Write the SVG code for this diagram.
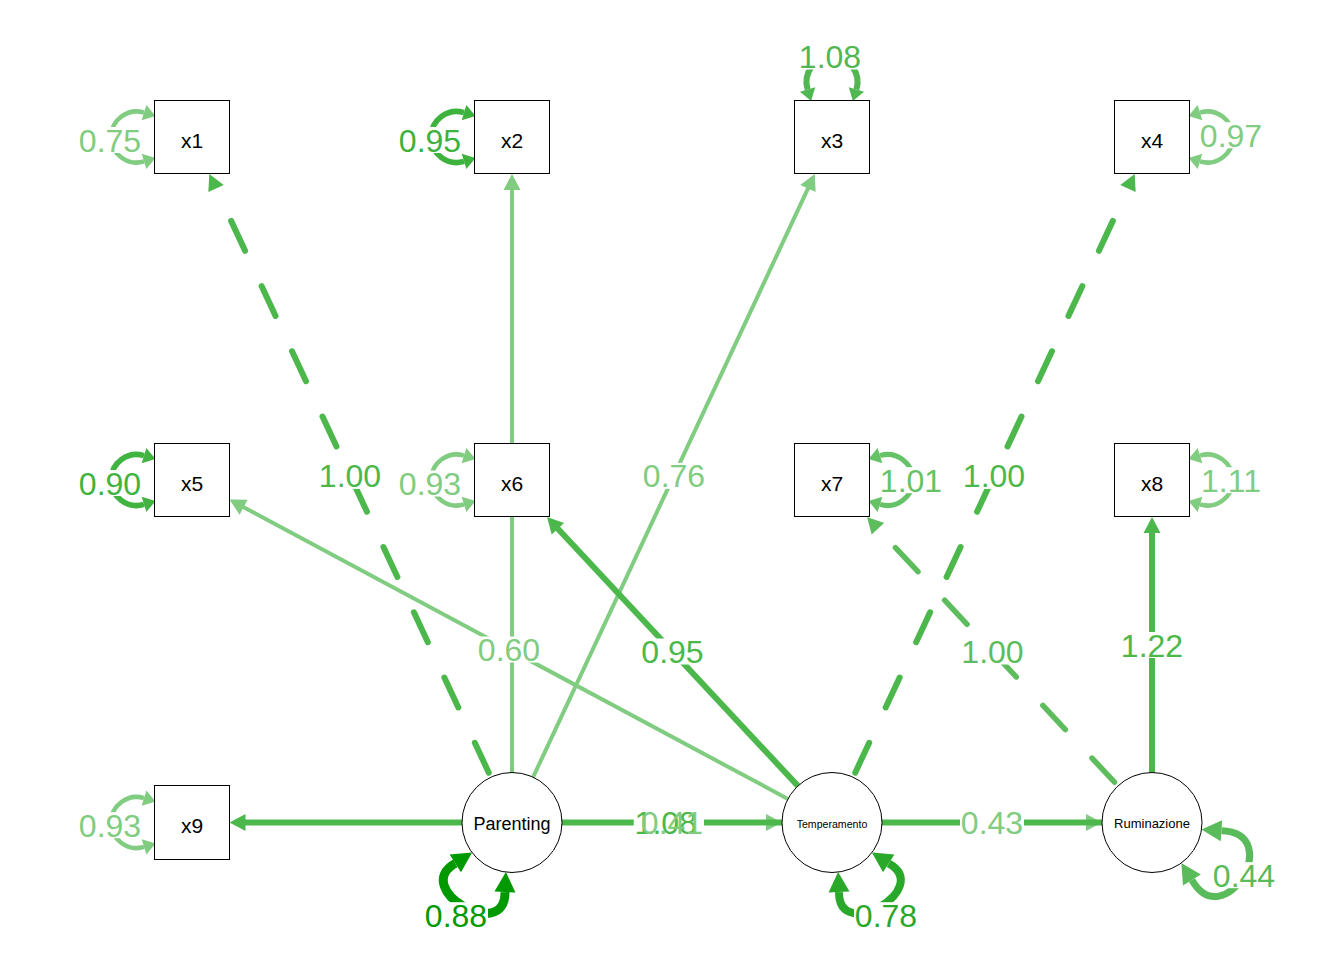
<svg xmlns="http://www.w3.org/2000/svg" xmlns:xlink="http://www.w3.org/1999/xlink" width="1344" height="960" viewBox="0 0 1344 960">
  <style>
    .ln { fill: none; stroke: currentColor; }
    .dash { stroke-dasharray: 33 39; stroke-dashoffset: 67; stroke-linecap: round; }
    .ah { fill: currentColor; }
    .bg { fill: #ffffff; }
    .lbl { font-family: "Liberation Sans", Arial, sans-serif; font-size: 32px; text-anchor: middle; fill: currentColor; }
    .box { fill: #ffffff; stroke: #000000; stroke-width: 1; }
    .nt { font-family: "Liberation Sans", Arial, sans-serif; text-anchor: middle; fill: #000000; }
    .cL { color: #80cc80; }
    .cM { color: #4cb84c; }
    .cR7 { color: #5dbd5d; }
    .c2 { color: #3db23d; }
    .c3 { color: #52b752; }
    .c5 { color: #40b340; }
    .c7 { color: #66c266; }
    .cP { color: #009900; }
    .cT { color: #2aa82a; }
    .cR { color: #5abb5a; }
  </style>
  <defs>
    <!-- arrowheads: tip at origin, pointing along +x -->
    <path id="ah" d="M0,0 L-16,-8.5 L-16,8.5 Z" class="ah"/>
    <path id="ahs" d="M0,0 L-12,-8 L-12,8 Z" class="ah"/>
    <path id="ahb" d="M0,0 L-20,-10.5 L-20,10.5 Z" class="ah"/>
    <!-- residual loop on a box side: side centre at origin, loop opens towards -x -->
    <g id="bloop">
      <path class="ln" d="M-10.5,-24.4 A25.5,25.5 0 1 0 -10.5,24.4"/>
      <use href="#ahs" transform="translate(1,-20.9) rotate(17)"/>
      <use href="#ahs" transform="translate(1,20.9) rotate(-17)"/>
    </g>
    <!-- residual loop on a latent circle (r=50): centre at origin, loop opens towards +y -->
    <g id="cloop">
      <path class="ln" d="M-28.7,63.8 C-55,108 55,108 28.7,63.8"/>
      <use href="#ahb" transform="translate(-19.5,46) rotate(-62.7)"/>
      <use href="#ahb" transform="translate(19.5,46) rotate(-117.3)"/>
    </g>
    <!-- deeper variant of the latent loop -->
    <g id="cloopDeep">
      <path class="ln" d="M-28.7,63.8 C-60,120 60,120 28.7,63.8"/>
      <use href="#ahb" transform="translate(-19.5,46) rotate(-62.7)"/>
      <use href="#ahb" transform="translate(19.5,46) rotate(-117.3)"/>
    </g>
  </defs>

  <rect width="1344" height="960" fill="#ffffff"/>

  <g id="connectors">
    <!-- residual variances -->
    <use href="#bloop" class="cL" stroke-width="4.5" transform="translate(154.5,137)"/>
    <use href="#bloop" class="c2" stroke-width="5.5" transform="translate(474.5,137)"/>
    <use href="#bloop" class="c3" stroke-width="6" transform="translate(832,100) rotate(90)"/>
    <use href="#bloop" class="cL" stroke-width="4.5" transform="translate(1189.5,137) scale(-1,1)"/>
    <use href="#bloop" class="c5" stroke-width="5.5" transform="translate(154.5,480)"/>
    <use href="#bloop" class="cL" stroke-width="4.5" transform="translate(474.5,480)"/>
    <use href="#bloop" class="c7" stroke-width="5" transform="translate(869.5,480) scale(-1,1)"/>
    <use href="#bloop" class="cL" stroke-width="4.5" transform="translate(1189.5,480) scale(-1,1)"/>
    <use href="#bloop" class="cL" stroke-width="4.5" transform="translate(154.5,822.5)"/>
    <use href="#cloop" class="cP" stroke-width="9" transform="translate(512,822.5) rotate(30)"/>
    <use href="#cloop" class="cT" stroke-width="8" transform="translate(832,822.5) rotate(-30)"/>
    <use href="#cloopDeep" class="cR" stroke-width="7" transform="translate(1152,822.5) rotate(-59)"/>

    <!-- loadings -->
    <g id="e-Parenting-x1" class="cM">
      <path class="ln dash" stroke-width="6" d="M490.9,777.2 L215.6,187.6"/>
      <use href="#ah" transform="translate(209.3,174) rotate(-115)"/>
    </g>
    <g id="e-Parenting-x2" class="cL">
      <path class="ln" stroke-width="4" d="M512,772.5 L512,189"/>
      <use href="#ah" transform="translate(512,174) rotate(-90)"/>
    </g>
    <g id="e-Parenting-x3" class="cL">
      <path class="ln" stroke-width="4" d="M533.1,777.2 L808.4,187.6"/>
      <use href="#ah" transform="translate(814.7,174) rotate(-65)"/>
    </g>
    <g id="e-Temperamento-x4" class="cM">
      <path class="ln dash" stroke-width="6" d="M853.1,777.2 L1128.4,187.6"/>
      <use href="#ah" transform="translate(1134.7,174) rotate(-65)"/>
    </g>
    <g id="e-Temperamento-x5" class="cL">
      <path class="ln" stroke-width="4" d="M787.9,798.9 L242.7,506.7"/>
      <use href="#ah" transform="translate(229.5,499.6) rotate(-151.8)"/>
    </g>
    <g id="e-Temperamento-x6" class="cM">
      <path class="ln" stroke-width="6" d="M797.9,785.9 L557.2,528"/>
      <use href="#ah" transform="translate(547,517) rotate(-133)"/>
    </g>
    <g id="e-Ruminazione-x7" class="cR7">
      <path class="ln dash" stroke-width="5.5" d="M1117.9,785.9 L877.2,528"/>
      <use href="#ah" transform="translate(867,517) rotate(-133)"/>
    </g>
    <g id="e-Ruminazione-x8" class="cM">
      <path class="ln" stroke-width="6" d="M1152,772.5 L1152,532"/>
      <use href="#ah" transform="translate(1152,517) rotate(-90)"/>
    </g>

    <!-- regressions -->
    <g id="e-Parenting-Temperamento" class="cL">
      <path class="ln" stroke-width="4" d="M562,822.5 L767,822.5"/>
      <use href="#ah" transform="translate(782,822.5)"/>
    </g>
    <g id="e-Temperamento-Ruminazione" class="cL">
      <path class="ln" stroke-width="4" d="M882,822.5 L1087,822.5"/>
      <use href="#ah" transform="translate(1102,822.5)"/>
    </g>
    <g id="e-Ruminazione-x9" class="cM">
      <path class="ln" stroke-width="6" d="M1102,822.5 L244.5,822.5"/>
      <use href="#ah" transform="translate(229.5,822.5) rotate(180)"/>
    </g>

    <!-- label backgrounds -->
    <g id="label-bg" class="bg">
      <rect x="318" y="462.9" width="64" height="26"/>
      <rect x="642" y="462.9" width="64" height="26"/>
      <rect x="962" y="462.9" width="64" height="26"/>
      <rect x="477" y="636.5" width="64" height="26"/>
      <rect x="640.5" y="638.5" width="64" height="26"/>
      <rect x="960.5" y="638.5" width="64" height="26"/>
      <rect x="1120" y="632" width="64" height="26"/>
      <rect x="633.75" y="809.5" width="64" height="26"/>
      <rect x="640" y="809.5" width="64" height="26"/>
      <rect x="960" y="809.5" width="64" height="26"/>
      <rect x="78" y="127" width="64" height="26"/>
      <rect x="398" y="127" width="64" height="26"/>
      <rect x="798" y="43.5" width="64" height="26"/>
      <rect x="1199" y="122.2" width="64" height="26"/>
      <rect x="78" y="470" width="64" height="26"/>
      <rect x="398" y="470.5" width="64" height="26"/>
      <rect x="879" y="467.2" width="64" height="26"/>
      <rect x="1199" y="467.2" width="64" height="26"/>
      <rect x="78" y="812.2" width="64" height="26"/>
      <rect x="424" y="902.2" width="64" height="26"/>
      <rect x="854" y="902.2" width="64" height="26"/>
      <rect x="1212" y="862.2" width="64" height="26"/>
    </g>

    <!-- edge labels -->
    <g id="labels">
      <text class="lbl cM" x="350" y="487.4">1.00</text>
      <text class="lbl cL" x="674" y="487.4">0.76</text>
      <text class="lbl cM" x="994" y="487.4">1.00</text>
      <text class="lbl cL" x="509" y="661">0.60</text>
      <text class="lbl cM" x="672.5" y="663">0.95</text>
      <text class="lbl cR7" x="992.5" y="663">1.00</text>
      <text class="lbl cM" x="1152" y="656.5">1.22</text>
      <text class="lbl cM" x="665.75" y="834">1.08</text>
      <text class="lbl cL" x="672" y="834">0.41</text>
      <text class="lbl cL" x="992" y="834">0.43</text>
      <text class="lbl cL" x="110" y="151.5">0.75</text>
      <text class="lbl c2" x="430" y="151.5">0.95</text>
      <text class="lbl c3" x="830" y="68">1.08</text>
      <text class="lbl cL" x="1231" y="146.7">0.97</text>
      <text class="lbl c5" x="110" y="494.5">0.90</text>
      <text class="lbl cL" x="430" y="495">0.93</text>
      <text class="lbl c7" x="911" y="491.7">1.01</text>
      <text class="lbl cL" x="1231" y="491.7">1.11</text>
      <text class="lbl cL" x="110" y="836.7">0.93</text>
      <text class="lbl cP" x="456" y="926.7">0.88</text>
      <text class="lbl cT" x="886" y="926.7">0.78</text>
      <text class="lbl cR" x="1244" y="886.7">0.44</text>
    </g>
  </g>

  <!-- observed variables -->
  <g id="node-x1"><rect class="box" x="154.5" y="100.5" width="75" height="73"/><text class="nt" x="192" y="147.5" font-size="21">x1</text></g>
  <g id="node-x2"><rect class="box" x="474.5" y="100.5" width="75" height="73"/><text class="nt" x="512" y="147.5" font-size="21">x2</text></g>
  <g id="node-x3"><rect class="box" x="794.5" y="100.5" width="75" height="73"/><text class="nt" x="832" y="147.5" font-size="21">x3</text></g>
  <g id="node-x4"><rect class="box" x="1114.5" y="100.5" width="75" height="73"/><text class="nt" x="1152" y="147.5" font-size="21">x4</text></g>
  <g id="node-x5"><rect class="box" x="154.5" y="443.5" width="75" height="73"/><text class="nt" x="192" y="490.5" font-size="21">x5</text></g>
  <g id="node-x6"><rect class="box" x="474.5" y="443.5" width="75" height="73"/><text class="nt" x="512" y="490.5" font-size="21">x6</text></g>
  <g id="node-x7"><rect class="box" x="794.5" y="443.5" width="75" height="73"/><text class="nt" x="832" y="490.5" font-size="21">x7</text></g>
  <g id="node-x8"><rect class="box" x="1114.5" y="443.5" width="75" height="73"/><text class="nt" x="1152" y="490.5" font-size="21">x8</text></g>
  <g id="node-x9"><rect class="box" x="154.5" y="785.5" width="75" height="74"/><text class="nt" x="192" y="833" font-size="21">x9</text></g>

  <!-- latent variables -->
  <g id="node-Parenting"><circle class="box" cx="512" cy="822.5" r="50"/><text class="nt" x="512" y="829.5" font-size="18">Parenting</text></g>
  <g id="node-Temperamento"><circle class="box" cx="832" cy="822.5" r="50"/><text class="nt" x="832" y="827.5" font-size="10.6">Temperamento</text></g>
  <g id="node-Ruminazione"><circle class="box" cx="1152" cy="822.5" r="50"/><text class="nt" x="1152" y="828" font-size="13">Ruminazione</text></g>
</svg>
